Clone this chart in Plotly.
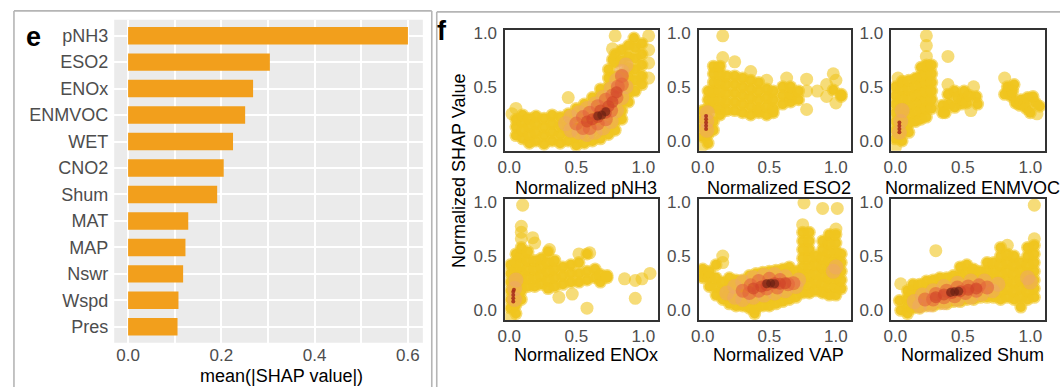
import plotly.graph_objects as go

# ---------------- data ----------------
FEATURES = ["pNH3", "ESO2", "ENOx", "ENMVOC", "WET", "CNO2", "Shum",
            "MAT", "MAP", "Nswr", "Wspd", "Pres"]
MEAN_ABS_SHAP = [0.600, 0.304, 0.268, 0.251, 0.225, 0.205, 0.191,
                 0.129, 0.123, 0.118, 0.108, 0.106]
BAR_TICKS = [0.0, 0.2, 0.4, 0.6]
BAR_TICK_TEXT = ["0.0", "0.2", "0.4", "0.6"]
BAR_TITLE = "mean(|SHAP value|)"

SCATTER_TICKS = [0.0, 0.5, 1.0]
SCATTER_TICK_TEXT = ["0.0", "0.5", "1.0"]
SCATTER_YTITLE = "Normalized SHAP Value"
PANEL_TITLES = ["Normalized pNH3", "Normalized ESO2", "Normalized ENMVOC",
                "Normalized ENOx", "Normalized VAP", "Normalized Shum"]

# point clouds: (x, [y values at that x])
PNH3_CLOUD = [
    (0.02, [0.25]), (0.05, [0.05, 0.13, 0.20, 0.30]),
    (0.10, [0.02, 0.10, 0.18, 0.24]), (0.15, [-0.02, 0.06, 0.14, 0.21]),
    (0.20, [0.0, 0.08, 0.16, 0.23]), (0.26, [-0.03, 0.05, 0.13, 0.21]),
    (0.32, [0.0, 0.08, 0.16, 0.24]), (0.38, [-0.02, 0.06, 0.14, 0.22]),
    (0.44, [0.0, 0.08, 0.16, 0.25, 0.40]), (0.50, [-0.04, 0.04, 0.12, 0.22, 0.30]),
    (0.56, [-0.02, 0.06, 0.14, 0.22, 0.30, 0.34]),
    (0.62, [0.0, 0.08, 0.16, 0.24, 0.32, 0.40]),
    (0.68, [0.02, 0.10, 0.18, 0.26, 0.34, 0.42, 0.48]),
    (0.74, [0.06, 0.14, 0.24, 0.32, 0.40, 0.50, 0.58, 0.66]),
    (0.77, [0.75, 0.85]),
    (0.79, [0.10, 0.18, 0.26, 0.34, 0.42, 0.50, 0.60, 0.72, 0.80, 0.97]),
    (0.84, [0.20, 0.28, 0.36, 0.44, 0.52, 0.62, 0.74, 0.84]),
    (0.89, [0.36, 0.44, 0.52, 0.60, 0.68, 0.78, 0.88]),
    (0.93, [0.95]),
    (0.94, [0.46, 0.56, 0.66, 0.76, 0.86]),
    (0.99, [0.52, 0.60, 0.70, 0.80, 0.90]),
    (1.04, [0.58, 0.72, 0.84, 0.97]),
]
PNH3_DENSE = [
    (0.42, 0.16, 1), (0.46, 0.10, 1), (0.46, 0.22, 1), (0.52, 0.08, 1),
    (0.52, 0.26, 1), (0.58, 0.06, 1), (0.58, 0.30, 1), (0.64, 0.08, 1),
    (0.64, 0.34, 1), (0.70, 0.12, 1), (0.70, 0.40, 1), (0.76, 0.18, 1),
    (0.76, 0.48, 1), (0.80, 0.28, 1), (0.80, 0.56, 1), (0.84, 0.40, 1),
    (0.84, 0.64, 1), (0.87, 0.50, 1), (0.87, 0.70, 1),
    (0.50, 0.16, 2), (0.55, 0.12, 2), (0.55, 0.22, 2), (0.60, 0.12, 2),
    (0.60, 0.26, 2), (0.66, 0.16, 2), (0.66, 0.32, 2), (0.72, 0.20, 2),
    (0.72, 0.38, 2), (0.76, 0.28, 2), (0.77, 0.42, 2), (0.80, 0.40, 2),
    (0.81, 0.50, 2), (0.84, 0.52, 2), (0.84, 0.60, 2),
    (0.58, 0.18, 3), (0.62, 0.20, 3), (0.66, 0.22, 3), (0.68, 0.28, 3),
    (0.72, 0.26, 3), (0.74, 0.32, 3), (0.77, 0.36, 3), (0.80, 0.45, 3),
    (0.66, 0.23, 4), (0.69, 0.24, 4), (0.72, 0.27, 4),
]

ESO2_CLOUD = [
    (0.0, [-0.04, 0.04, 0.12, 0.20, 0.28]),
    (0.04, [-0.02, 0.06, 0.14, 0.22, 0.30, 0.38, 0.46]),
    (0.08, [0.10, 0.18, 0.30, 0.38, 0.46, 0.54, 0.62, 0.69]),
    (0.13, [0.24, 0.30, 0.38, 0.46, 0.54, 0.62, 0.69]),
    (0.15, [0.77, 0.97]),
    (0.18, [0.28, 0.36, 0.44, 0.52, 0.60]),
    (0.24, [0.28, 0.36, 0.44, 0.52, 0.60, 0.73]),
    (0.30, [0.26, 0.34, 0.42, 0.50, 0.58]),
    (0.36, [0.24, 0.32, 0.40, 0.48, 0.56, 0.64]),
    (0.42, [0.26, 0.30, 0.38, 0.46, 0.54]),
    (0.48, [0.24, 0.32, 0.40, 0.48, 0.56]),
    (0.53, [0.26, 0.30, 0.38, 0.46]),
    (0.60, [0.34, 0.42, 0.50]),
    (0.63, [0.58]),
    (0.66, [0.36, 0.41, 0.44, 0.50]),
    (0.72, [0.38, 0.46]),
    (0.78, [0.29, 0.46, 0.57]),
    (0.86, [0.46]),
    (0.93, [0.41, 0.52]),
    (0.98, [0.47, 0.62]),
    (1.00, [0.35, 0.56]),
    (1.04, [0.41, 0.43]),
]
ESO2_DENSE = [
    (0.03, 0.10, 1), (0.03, 0.18, 1), (0.035, 0.26, 1),
    (0.025, 0.11, 5), (0.025, 0.14, 5), (0.025, 0.17, 5),
    (0.025, 0.20, 5), (0.025, 0.23, 5),
]

ENMVOC_CLOUD = [
    (0.0, [-0.06, 0.02, 0.10, 0.18, 0.26, 0.34, 0.42, 0.50]),
    (0.02, [0.58]),
    (0.05, [0.0, 0.08, 0.16, 0.24, 0.32, 0.40, 0.48, 0.55]),
    (0.10, [0.08, 0.16, 0.24, 0.32, 0.40, 0.48, 0.56]),
    (0.15, [0.18, 0.26, 0.34, 0.42, 0.50, 0.58]),
    (0.19, [0.20, 0.28, 0.36, 0.44, 0.52, 0.60, 0.68]),
    (0.23, [0.22, 0.30, 0.38, 0.46, 0.54, 0.62, 0.70, 0.78, 0.88, 0.97]),
    (0.27, [0.30, 0.38, 0.46, 0.54, 0.62, 0.70]),
    (0.35, [0.26, 0.33]), (0.37, [0.26]), (0.39, [0.43, 0.52, 0.78]),
    (0.40, [0.34]), (0.44, [0.31, 0.46]), (0.46, [0.40]), (0.49, [0.34]),
    (0.50, [0.38]), (0.51, [0.46]), (0.53, [0.35]), (0.55, [0.42]),
    (0.56, [0.28]), (0.58, [0.50]), (0.60, [0.41]), (0.61, [0.34]),
    (0.81, [0.43, 0.58]), (0.83, [0.50]), (0.84, [0.46]), (0.86, [0.41]),
    (0.87, [0.46]), (0.88, [0.52]), (0.89, [0.35]), (0.92, [0.33]),
    (0.93, [0.38]), (0.96, [0.34]), (0.97, [0.30]), (0.98, [0.40]),
    (1.00, [0.26]), (1.02, [0.41]), (1.04, [0.35]), (1.05, [0.25]),
    (1.07, [0.32]),
]
ENMVOC_DENSE = [
    (0.03, 0.08, 1), (0.04, 0.18, 1), (0.05, 0.28, 1),
    (0.03, 0.08, 5), (0.03, 0.11, 5), (0.03, 0.14, 5),
    (0.03, 0.17, 5),
]

ENOX_CLOUD = [
    (0.01, [-0.06, 0.02, 0.10, 0.18, 0.26, 0.34, 0.42]),
    (0.05, [-0.03, 0.05, 0.13, 0.21, 0.29, 0.37, 0.45, 0.52]),
    (0.09, [0.10, 0.18, 0.26, 0.34, 0.42, 0.50, 0.58, 0.66, 0.72, 0.775]),
    (0.10, [0.97]),
    (0.14, [0.22, 0.30, 0.38, 0.46, 0.54]),
    (0.175, [0.67]),
    (0.19, [0.22, 0.30, 0.38, 0.46, 0.62]),
    (0.24, [0.24, 0.32, 0.40, 0.48]),
    (0.29, [0.20, 0.28, 0.36, 0.44, 0.54]),
    (0.30, [0.56]),
    (0.34, [0.22, 0.30, 0.38, 0.46]),
    (0.37, [0.12]),
    (0.40, [0.24, 0.32, 0.40]),
    (0.46, [0.26, 0.34, 0.42]),
    (0.47, [0.15]),
    (0.52, [0.26, 0.34, 0.44, 0.52]),
    (0.58, [0.02, 0.28, 0.36, 0.52]),
    (0.60, [0.53]),
    (0.64, [0.30, 0.38]),
    (0.68, [0.26, 0.33]),
    (0.73, [0.30, 0.32]),
    (0.86, [0.29]), (0.94, [0.11, 0.275]), (0.99, [0.29]), (1.05, [0.34]),
]
ENOX_DENSE = [
    (0.04, 0.10, 1), (0.04, 0.20, 1), (0.05, 0.28, 1),
    (0.03, 0.08, 5), (0.03, 0.11, 5), (0.03, 0.14, 5),
    (0.03, 0.17, 5), (0.035, 0.19, 5),
]

VAP_CLOUD = [
    (0.0, [0.30, 0.38]), (0.02, [0.34]), (0.05, [0.22, 0.30, 0.36]),
    (0.10, [0.14, 0.22, 0.30, 0.42]), (0.15, [0.10, 0.18, 0.26, 0.44, 0.50]),
    (0.20, [0.06, 0.14, 0.22, 0.30]), (0.25, [0.04, 0.12, 0.20, 0.28]),
    (0.30, [0.04, 0.12, 0.20, 0.28]), (0.35, [0.02, 0.10, 0.18, 0.26, 0.32]),
    (0.39, [-0.03]), (0.40, [0.02, 0.10, 0.18, 0.26, 0.34]),
    (0.45, [0.04, 0.12, 0.20, 0.28, 0.35]), (0.50, [0.04, 0.12, 0.20, 0.28, 0.36]),
    (0.55, [0.06, 0.14, 0.22, 0.30, 0.37]), (0.60, [0.08, 0.16, 0.24, 0.32, 0.38]),
    (0.65, [0.10, 0.18, 0.26, 0.34, 0.40]), (0.70, [0.12, 0.20, 0.28, 0.36]),
    (0.75, [0.16, 0.24, 0.32, 0.40, 0.48, 0.56, 0.64, 0.72, 0.79]),
    (0.76, [0.99]),
    (0.80, [0.16, 0.24, 0.32, 0.40, 0.48, 0.56, 0.64, 0.72]),
    (0.85, [0.18, 0.26, 0.34, 0.42, 0.50]),
    (0.90, [0.16, 0.24, 0.32, 0.40, 0.48, 0.56, 0.64, 0.94]),
    (0.95, [0.14, 0.22, 0.30, 0.38, 0.46, 0.54, 0.62, 0.70]),
    (1.00, [0.14, 0.22, 0.30, 0.38, 0.46, 0.54, 0.62, 0.70, 0.75]),
    (1.01, [0.94]),
    (1.04, [0.20, 0.28, 0.36, 0.44, 0.52]),
]
VAP_DENSE = [
    (0.18, 0.16, 1), (0.24, 0.12, 1), (0.24, 0.22, 1), (0.30, 0.10, 1),
    (0.30, 0.26, 1), (0.38, 0.12, 1), (0.38, 0.30, 1), (0.46, 0.14, 1),
    (0.46, 0.32, 1), (0.54, 0.16, 1), (0.54, 0.33, 1), (0.62, 0.18, 1),
    (0.62, 0.31, 1), (0.70, 0.22, 1), (0.72, 0.28, 1), (0.98, 0.36, 1),
    (1.00, 0.40, 1),
    (0.30, 0.18, 2), (0.35, 0.16, 2), (0.36, 0.23, 2), (0.42, 0.18, 2),
    (0.42, 0.27, 2), (0.48, 0.20, 2), (0.50, 0.29, 2), (0.56, 0.21, 2),
    (0.58, 0.28, 2), (0.64, 0.24, 2), (0.68, 0.25, 2),
    (0.38, 0.20, 3), (0.44, 0.22, 3), (0.48, 0.23, 3), (0.54, 0.25, 3),
    (0.58, 0.245, 3), (0.62, 0.25, 3),
    (0.48, 0.245, 4), (0.51, 0.25, 4), (0.54, 0.245, 4),
]

SHUM_CLOUD = [
    (0.03, [0.09]), (0.04, [0.0, 0.245]), (0.09, [-0.03, 0.04, 0.11, 0.18]),
    (0.13, [0.02, 0.10, 0.18, 0.24]), (0.18, [0.02, 0.08, 0.16, 0.24]),
    (0.23, [0.04, 0.12, 0.20, 0.27]), (0.28, [0.04, 0.12, 0.20, 0.28]),
    (0.30, [0.55]), (0.33, [0.06, 0.14, 0.22, 0.30]),
    (0.38, [0.06, 0.14, 0.22, 0.30]), (0.43, [0.08, 0.16, 0.24, 0.32]),
    (0.48, [0.08, 0.16, 0.24, 0.32, 0.40]), (0.53, [0.10, 0.18, 0.26, 0.34, 0.42]),
    (0.58, [0.10, 0.18, 0.26, 0.34, 0.38]), (0.63, [0.12, 0.20, 0.28, 0.36]),
    (0.68, [0.12, 0.20, 0.28, 0.36, 0.44]), (0.73, [0.12, 0.20, 0.28, 0.36, 0.44]),
    (0.78, [0.10, 0.18, 0.26, 0.34, 0.42, 0.50, 0.58]),
    (0.83, [0.12, 0.20, 0.28, 0.36, 0.44, 0.52, 0.60]),
    (0.88, [0.10, 0.18, 0.26, 0.34, 0.42, 0.50]),
    (0.93, [0.03, 0.12, 0.20, 0.28, 0.36, 0.44]),
    (0.98, [0.10, 0.18, 0.26, 0.34, 0.42, 0.50, 0.58]),
    (1.03, [0.12, 0.20, 0.28, 0.36, 0.44, 0.52, 0.60, 0.66, 0.97]),
]
SHUM_DENSE = [
    (0.14, 0.08, 1), (0.18, 0.04, 1), (0.20, 0.14, 1), (0.26, 0.05, 1),
    (0.28, 0.18, 1), (0.36, 0.07, 1), (0.36, 0.22, 1), (0.46, 0.10, 1),
    (0.46, 0.25, 1), (0.56, 0.12, 1), (0.56, 0.27, 1), (0.64, 0.15, 1),
    (0.66, 0.27, 1), (0.72, 0.18, 1), (0.76, 0.24, 1), (1.00, 0.26, 1),
    (0.98, 0.30, 1),
    (0.22, 0.10, 2), (0.28, 0.10, 2), (0.30, 0.15, 2), (0.36, 0.12, 2),
    (0.38, 0.18, 2), (0.44, 0.13, 2), (0.46, 0.21, 2), (0.52, 0.16, 2),
    (0.54, 0.22, 2), (0.60, 0.18, 2), (0.62, 0.23, 2), (0.68, 0.21, 2),
    (0.30, 0.12, 3), (0.36, 0.145, 3), (0.42, 0.16, 3), (0.48, 0.175, 3),
    (0.54, 0.19, 3), (0.60, 0.20, 3),
    (0.41, 0.165, 4), (0.44, 0.17, 4), (0.47, 0.175, 4),
]

PANELS = [
    (PNH3_CLOUD, PNH3_DENSE), (ESO2_CLOUD, ESO2_DENSE), (ENMVOC_CLOUD, ENMVOC_DENSE),
    (ENOX_CLOUD, ENOX_DENSE), (VAP_CLOUD, VAP_DENSE), (SHUM_CLOUD, SHUM_DENSE),
]

# ---------------- styling ----------------
W, H = 1060, 387
FONT = "Arial, Liberation Sans, sans-serif"
BAR_COLOR = "#F29F1C"
TICK_GRAY = "#4D4D4D"
CORE_STYLE = ("rgb(241,200,40)", 10)
LEVEL_STYLE = {
    0: ("rgba(240,196,30,0.6)", 13),
    1: ("rgba(238,165,105,0.5)", 15),
    2: ("rgba(228,98,58,0.58)", 14),
    3: ("rgba(208,68,40,0.62)", 12),
    4: ("rgba(95,28,16,0.55)", 9),
    5: ("rgba(165,40,25,0.85)", 4),
}


def fx(p):
    return p / W


def fy(p):
    return 1 - p / H


fig = go.Figure()

# ---- panel e : bar chart ----
fig.add_trace(go.Bar(
    x=MEAN_ABS_SHAP, y=FEATURES, orientation="h", width=0.66,
    marker=dict(color=BAR_COLOR, line=dict(width=0)),
    xaxis="x", yaxis="y", showlegend=False,
))

layout = dict(
    width=W, height=H, margin=dict(l=0, r=0, t=0, b=0),
    paper_bgcolor="white", plot_bgcolor="white", showlegend=False,
    font=dict(family=FONT),
    xaxis=dict(
        domain=[fx(107), fx(418)], range=[-0.0298, 0.632], anchor="y",
        tickvals=BAR_TICKS, ticktext=BAR_TICK_TEXT,
        tickfont=dict(size=17, color=TICK_GRAY), ticks="", ticklabelstandoff=0,
        showgrid=True, gridcolor="white", gridwidth=2.2, zeroline=False,
        minor=dict(tickvals=[0.1, 0.3, 0.5], showgrid=True, gridcolor="white", gridwidth=1.6),
        showline=False,
    ),
    yaxis=dict(
        domain=[fy(342), fy(14)], anchor="x", type="category",
        categoryorder="array", categoryarray=FEATURES[::-1], range=[-0.6, 11.6],
        tickfont=dict(size=18, color=TICK_GRAY), ticks="", ticklabelstandoff=5,
        showgrid=True, gridcolor="white", gridwidth=2.2, zeroline=False, showline=False,
    ),
)

shapes = [
    dict(type="rect", xref="x domain", yref="y domain", x0=0, x1=1, y0=0, y1=1,
         fillcolor="#EBEBEB", line=dict(width=0), layer="below"),
]

annotations = [
    dict(text=BAR_TITLE, x=fx(276), y=fy(376), xref="paper", yref="paper",
         showarrow=False, font=dict(size=18, color="black"), xanchor="center", yanchor="middle"),
    dict(text="<b>e</b>", x=fx(26), y=fy(31), xref="paper", yref="paper",
         showarrow=False, font=dict(size=27, color="black"), xanchor="center", yanchor="middle"),
    dict(text="<b>f</b>", x=fx(437), y=fy(25), xref="paper", yref="paper",
         showarrow=False, font=dict(size=27, color="black"), xanchor="center", yanchor="middle"),
    dict(text=SCATTER_YTITLE, x=fx(455), y=fy(168), xref="paper", yref="paper",
         showarrow=False, textangle=-90, font=dict(size=18, color="black"),
         xanchor="center", yanchor="middle"),
]

# ---- panel f : six density scatter plots ----
COLS = [(501, 655), (696, 849), (890, 1045)]
ROWS = [(24, 147), (196, 319)]
TITLE_Y = [185, 355]

for i, (cloud, dense) in enumerate(PANELS):
    k = i + 2
    r, c = divmod(i, 3)
    x0, x1 = COLS[c]
    y0, y1 = ROWS[r]
    xa, ya = f"x{k}", f"y{k}"

    base = [(x, y) for x, ys in cloud for y in ys]
    # points surrounded by others get an opaque core so the cloud reads as solid
    core = [(x, y) for (x, y) in base
            if sum(1 for (u, v) in base if abs(u - x) < 0.065 and abs(v - y) < 0.095) >= 4]
    if core:
        fig.add_trace(go.Scatter(
            x=[p[0] for p in core], y=[p[1] for p in core], mode="markers",
            marker=dict(color=CORE_STYLE[0], size=CORE_STYLE[1], line=dict(width=0)),
            xaxis=xa, yaxis=ya, showlegend=False, hoverinfo="skip",
        ))

    pts = [(x, y, 0) for x, y in base] + list(dense)
    for lvl in sorted(LEVEL_STYLE):
        sel = [p for p in pts if p[2] == lvl]
        if not sel:
            continue
        color, size = LEVEL_STYLE[lvl]
        fig.add_trace(go.Scatter(
            x=[p[0] for p in sel], y=[p[1] for p in sel], mode="markers",
            marker=dict(color=color, size=size, line=dict(width=0)),
            xaxis=xa, yaxis=ya, showlegend=False, hoverinfo="skip",
        ))

    axis_common = dict(
        tickvals=SCATTER_TICKS, ticktext=SCATTER_TICK_TEXT,
        tickfont=dict(size=17, color=TICK_GRAY), ticks="",
        showgrid=False, zeroline=False, showline=True, mirror=True,
        linecolor="#333333", linewidth=1.5,
    )
    layout[f"xaxis{k}"] = dict(domain=[fx(x0), fx(x1)], range=[-0.03, 1.11],
                               anchor=ya, ticklabelstandoff=0, **axis_common)
    layout[f"yaxis{k}"] = dict(domain=[fy(y1), fy(y0)], range=[-0.09, 1.027],
                               anchor=xa, ticklabelstandoff=3, **axis_common)
    annotations.append(dict(
        text=PANEL_TITLES[i], x=fx((x0 + x1) / 2 + 4), y=fy(TITLE_Y[r]),
        xref="paper", yref="paper", showarrow=False,
        font=dict(size=18, color="black"), xanchor="center", yanchor="middle",
    ))

# ---- outer frames ----
BOX = "#B5B5B5"
for (ax0, ay0, ax1, ay1) in [(6, 5, 427, 5), (6, 5, 6, 387), (427, 5, 427, 387),
                             (432, 6, 1060, 6), (432, 6, 432, 387)]:
    shapes.append(dict(type="line", xref="paper", yref="paper",
                       x0=fx(ax0), x1=fx(ax1), y0=fy(ay0), y1=fy(ay1),
                       line=dict(color=BOX, width=1.6)))

layout["shapes"] = shapes
layout["annotations"] = annotations
fig.update_layout(**layout)

fig.write_html("out.html", config={"displayModeBar": False},
               post_script="document.body.style.margin='0';document.body.style.padding='0';")
